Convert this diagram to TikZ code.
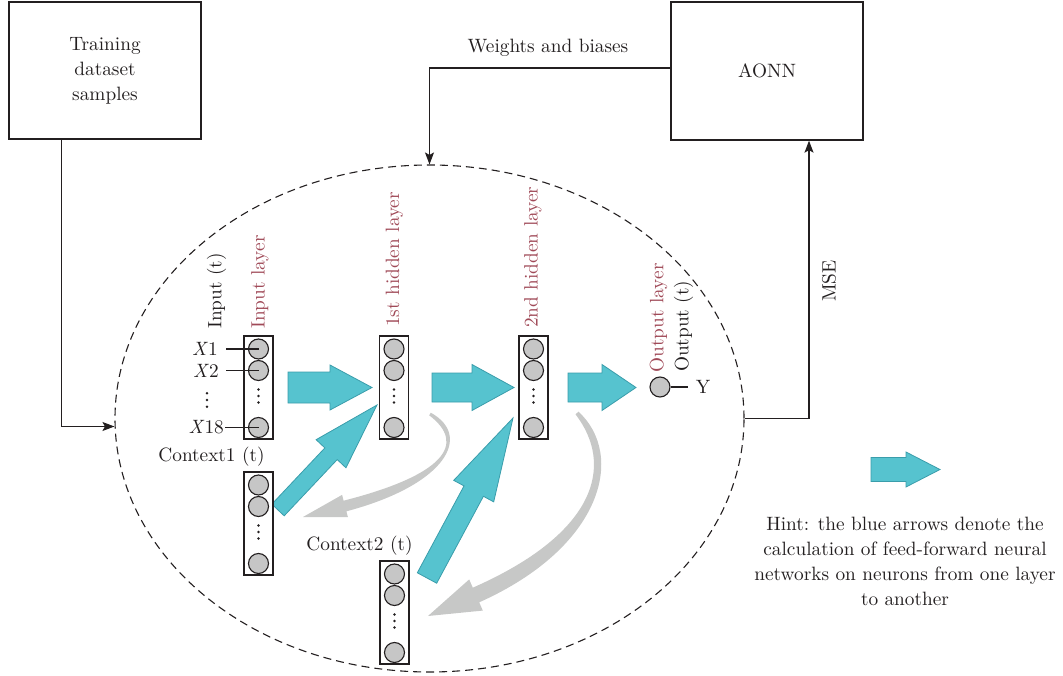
\documentclass[tikz,border=0pt]{standalone}
\usepackage{fontspec}
\setmainfont{lmroman10-regular.otf}[ItalicFont=lmroman10-italic.otf]
\usetikzlibrary{arrows.meta,calc,shapes.geometric}
\definecolor{bfill}{HTML}{56C3CF}
\definecolor{bline}{HTML}{3A9DAB}
\definecolor{garrow}{HTML}{C7C8C7}
\definecolor{nfill}{HTML}{C6C6C6}
\definecolor{ink}{HTML}{231F20}
\definecolor{labred}{HTML}{A04A58}
% block arrow: start, tip, shaft half width, head half width, head length
\newcommand\blockarrow[5]{%
  \coordinate (ba-h) at ($(#2)!#5!(#1)$);
  \filldraw[fill=bfill,draw=bline,line width=0.8pt,line join=miter]
    ($(#1)!#3!90:(#2)$) -- ($(ba-h)!#3!-90:(#1)$) -- ($(ba-h)!#4!-90:(#1)$)
    -- (#2) -- ($(ba-h)!#4!90:(#1)$) -- ($(ba-h)!#3!90:(#1)$)
    -- ($(#1)!#3!-90:(#2)$) -- cycle;}
% tapered curved arrow: S, c1, c2, E (shaft end), T (tip), w0, wm, w1, head half width
\newcommand\taperarrow[9]{%
  \fill[garrow]
    ($(#1)!#6!90:(#2)$) .. controls ($(#2)!#7!-90:(#1)$) and ($(#3)!#7!90:(#4)$) ..
    ($(#4)!#8!90:(#5)$) -- ($(#4)!#9!90:(#5)$) -- (#5) -- ($(#4)!#9!-90:(#5)$)
    -- ($(#4)!#8!-90:(#5)$) .. controls ($(#3)!#7!-90:(#4)$) and ($(#2)!#7!90:(#1)$) ..
    ($(#1)!#6!-90:(#2)$) -- cycle;}
% neuron column: name, x, top
\newcommand\nncol[3]{%
  \node[colbox] (#1) at (#2,#3+51.5) {};
  \node[neuron] (#1-1) at (#2,#3+13) {};
  \node[neuron] (#1-2) at (#2,#3+34.5) {};
  \node[neuron] (#1-3) at (#2,#3+91.5) {};
  \foreach \dd in {-6.5,0,6.5} \fill[ink] (#2,#3+60+\dd) circle (1.4pt);}
\begin{document}
\begin{tikzpicture}[x=1pt,y=-1pt,
  every node/.style={font=\fontsize{19.3}{25}\selectfont, text=ink},
  bigbox/.style={draw=ink,line width=1.3pt,minimum width=192pt,inner sep=0,align=center},
  colbox/.style={draw=ink,fill=white,line width=1.3pt,minimum width=29pt,minimum height=103pt,inner sep=0},
  neuron/.style={circle,draw=ink,fill=nfill,line width=1.1pt,minimum size=20pt,inner sep=0},
  conn/.style={draw=ink,line width=1.2pt,-{Stealth[length=12pt,width=9pt,inset=2.5pt]}},
  thinln/.style={draw=ink,line width=1.2pt},
  rotlab/.style={rotate=90,anchor=west,inner sep=0},
]
\useasboundingbox (0,0) rectangle (1063,676);

% outer boxes
\node[bigbox,minimum height=137pt] (train) at (105,70.5) {Training\\dataset\\samples};
\node[bigbox,minimum height=138pt] (aonn) at (767,71) {AONN};

% dashed ellipse
\node[ellipse,draw=ink,dash pattern=on 8pt off 5pt,line width=1.1pt,
      minimum width=629pt,minimum height=507pt,inner sep=0] (nn) at (429.5,418.5) {};

% connectors
\draw[conn] ($(train.south west)+(53,0)$) |- ($(nn.west)+(0,8)$);
\draw[conn] ($(aonn.west)+(0,-3)$) -| (nn.north);
\draw[conn] (nn.east) -| ($(aonn.south)+(42,0)$);
\node (wb) at (548,48) {Weights and biases};
\node[rotate=90] (mse) at (829,281) {MSE};

% gray recurrent arrows (tapered)
\coordinate (g1s) at (430,414); \coordinate (g1a) at (470,440);
\coordinate (g1b) at (445,480); \coordinate (g1e) at (345,506);
\coordinate (g1t) at (303,517);
\taperarrow{g1s}{g1a}{g1b}{g1e}{g1t}{1.5pt}{5pt}{5.5pt}{11.5pt}
\coordinate (g2s) at (577,413); \coordinate (g2a) at (620,460);
\coordinate (g2b) at (600,540); \coordinate (g2e) at (476,595);
\coordinate (g2t) at (428,616);
\taperarrow{g2s}{g2a}{g2b}{g2e}{g2t}{2pt}{7.5pt}{8pt}{17pt}

% blue arrows
\coordinate (a1s) at (288,387.5); \coordinate (a1e) at (372,387.5);
\coordinate (a2s) at (432,387.5); \coordinate (a2e) at (514,387.5);
\coordinate (a3s) at (568,387.5); \coordinate (a3e) at (636,387.5);
\coordinate (a4s) at (871,469.5); \coordinate (a4e) at (940,469.5);
\coordinate (d1s) at (278,510);   \coordinate (d1e) at (377,405);
\coordinate (d2s) at (427,578);   \coordinate (d2e) at (513,418);
\blockarrow{a1s}{a1e}{15.5pt}{22.5pt}{42pt}
\blockarrow{a2s}{a2e}{14.5pt}{23pt}{42pt}
\blockarrow{a3s}{a3e}{14.5pt}{23pt}{34pt}
\blockarrow{a4s}{a4e}{12pt}{17.5pt}{34pt}
\blockarrow{d1s}{d1e}{8.5pt}{20.5pt}{67pt}
\blockarrow{d2s}{d2e}{11pt}{22.7pt}{83pt}

% neuron columns
\nncol{inp}{258.5}{336}
\nncol{hA}{394}{336}
\nncol{hB}{533.5}{336}
\nncol{cA}{258.5}{472}
\nncol{cB}{394.5}{561}

% input labels
\node[anchor=east,inner sep=0] (x1) at (218,349) {\textit{X}1};
\node[anchor=east,inner sep=0] (x2) at (219,370.5) {\textit{X}2};
\node[anchor=east,inner sep=0] (x18) at (224,427.5) {\textit{X}18};
\coordinate (x1e) at (226,349);
\coordinate (x2e) at (226,370.5);
\coordinate (x18e) at (225,427.5);
\draw[thinln] (x1e) -- (inp-1.center);
\draw[thinln] (x2e) -- (inp-2.center);
\draw[thinln] (x18e) -- (inp-3.center);
\foreach \dd in {393.3,400,406.7} \fill[ink] (207,\dd) circle (1.4pt);

% rotated layer labels
\node[rotlab] (inlab) at (216.5,329) {Input (t)};
\node[rotlab,text=labred] (inlayer) at (260,329) {Input layer};
\node[rotlab,text=labred] (h1lab) at (394.5,327) {1st hidden layer};
\node[rotlab,text=labred] (h2lab) at (533,328) {2nd hidden layer};
\node[rotlab,text=labred] (outlayer) at (658.5,372.5) {Output layer};
\node[rotlab] (outlab) at (683.5,372) {Output (t)};

% output neuron
\node[neuron] (out) at (660,387) {};
\node[inner sep=0] (ylab) at (703,387) {Y};
\coordinate (ye) at (688,387);
\draw[thinln] (out.east) -- (ye);

% context labels
\node (c1lab) at (211.5,457) {Context1 (t)};
\node (c2lab) at (359.5,546) {Context2 (t)};

% hint
\node[align=center] (hint) at (905,561) {Hint: the blue arrows denote the\\calculation of feed-forward neural\\networks on neurons from one layer\\to another};
\end{tikzpicture}
\end{document}
